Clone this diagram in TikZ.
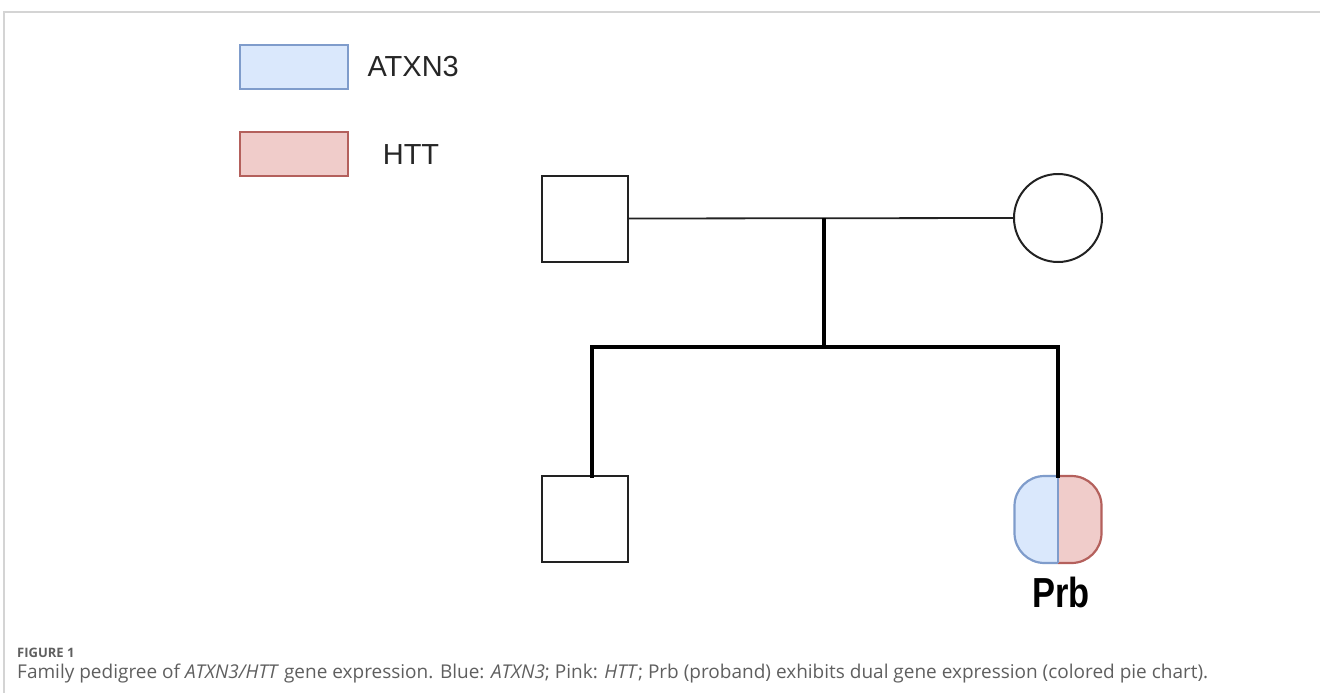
\documentclass[tikz,border=0pt]{standalone}
\usepackage{fontspec}
\setmainfont{Liberation Sans}
\newfontfamily\capfont{Open Sans}
\usetikzlibrary{calc}
\definecolor{bfill}{HTML}{DAE8FC}
\definecolor{bdraw}{HTML}{7F9CCB}
\definecolor{pfill}{HTML}{F0CCCA}
\definecolor{pdraw}{HTML}{B4605C}
\definecolor{framegray}{HTML}{D4D4D4}
\definecolor{capgray}{HTML}{5F5F5F}
\definecolor{symline}{HTML}{222222}
\tikzset{
  sym/.style={draw=symline, line width=2pt, minimum size=86pt, inner sep=0pt, outer sep=0pt},
  male/.style={sym, rectangle},
  female/.style={sym, circle, minimum size=88pt},
  legbox/.style={rectangle, line width=1.6pt, minimum width=108pt, minimum height=44pt, inner sep=0pt},
  legtext/.style={font=\fontsize{29}{32}\selectfont, text=black!85},
  thinline/.style={draw=symline, line width=1.8pt},
  thickline/.style={draw=black, line width=4pt},
}
\begin{document}
\begin{tikzpicture}[x=1pt,y=-1pt]
\useasboundingbox (0,0) rectangle (1320,693);
% frame
\draw[framegray, line width=2pt] (1320,12) -- (4,12) -- (4,693);
% legend
\node[legbox, draw=bdraw, fill=bfill] (lb) at (294,67) {};
\node[legtext, anchor=west] (lbt) at (364,67) {ATXN3};
\node[legbox, draw=pdraw, fill=pfill] (lp) at (294,154) {};
\node[legtext] (lpt) at (411,155) {HTT};
% parents
\node[male] (father) at (585,218.5) {};
\node[female] (mother) at (1058,218) {};
\coordinate (mid) at (824,218);
\coordinate (sibc) at (824,347);
\coordinate (sl) at (592,347);
\coordinate (sr) at (1058,347);
% children
\node[male] (son) at (585,519) {};
\node[rectangle, minimum size=87pt, inner sep=0pt, outer sep=0pt] (prb) at (1058,519.5) {};
\begin{scope}
  \clip (1000,460) rectangle (1058,580);
  \draw[bdraw, fill=bfill, line width=2.2pt, rounded corners=30pt] (prb.north west) rectangle (prb.south east);
\end{scope}
\begin{scope}
  \clip (1058,460) rectangle (1120,580);
  \draw[pdraw, fill=pfill, line width=2.2pt, rounded corners=30pt] (prb.north west) rectangle (prb.south east);
\end{scope}
\draw[bdraw, line width=2pt] (prb.north) -- (prb.south);
\node[font=\bfseries\fontsize{42}{44}\selectfont, xscale=0.82, anchor=base] (prbl) at (1061,607) {Prb};
% connectors
\draw[thinline] (father.east) -- (mother.west);
\draw[thickline] (mid) -- (sibc);
\draw[thickline, line cap=rect] (sl |- son.north) -- (sl) -- (sr) -- (prb.north);
% caption
\node[anchor=base west, inner sep=0pt, text=capgray, font=\capfont\bfseries\fontsize{13}{15}\selectfont] (figlab) at (17,657) {FIGURE 1};
\node[anchor=base west, inner sep=0pt, text=capgray, font=\capfont\fontsize{19}{22}\selectfont] (cap) at (17,678) {Family pedigree of \textit{ATXN3/HTT} gene expression. Blue: \textit{ATXN3}; Pink: \textit{HTT}; Prb (proband) exhibits dual gene expression (colored pie chart).};
\end{tikzpicture}
\end{document}
